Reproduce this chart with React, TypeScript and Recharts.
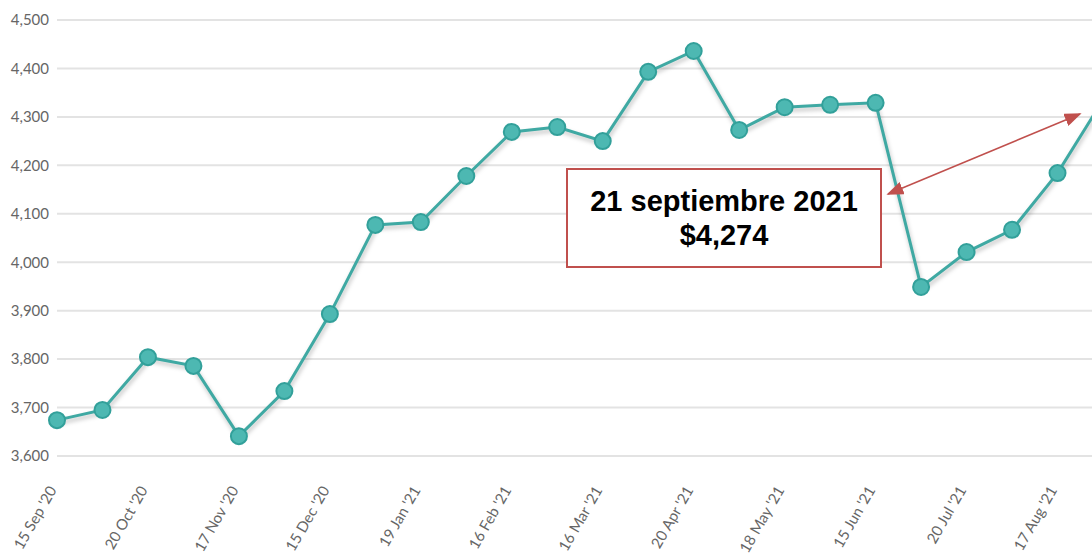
import React from "react";
import { LineChart, Line, XAxis, YAxis, CartesianGrid } from "recharts";

const dates = [
  "15 Sep '20", "29 Sep '20", "20 Oct '20", "3 Nov '20", "17 Nov '20", "1 Dec '20",
  "15 Dec '20", "5 Jan '21", "19 Jan '21", "2 Feb '21", "16 Feb '21", "2 Mar '21",
  "16 Mar '21", "6 Apr '21", "20 Apr '21", "4 May '21", "18 May '21", "1 Jun '21",
  "15 Jun '21", "6 Jul '21", "20 Jul '21", "3 Aug '21", "17 Aug '21", "31 Aug '21",
];

const prices = [
  3674, 3695, 3804, 3786, 3641, 3734, 3893, 4077, 4083, 4178, 4269, 4279,
  4250, 4393, 4436, 4273, 4320, 4325, 4329, 3949, 4021, 4067, 4184, 4335,
];

const yTicks = [3600, 3700, 3800, 3900, 4000, 4100, 4200, 4300, 4400, 4500];

const data = dates.map((d, i) => ({ date: d, price: prices[i] }));

const TEAL = "#3fa9a3";
const RED = "#c0504d";

function DateTick({ x, y, payload }: any) {
  const tx = x - 5;
  const ty = y + 23;
  return (
    <text
      x={tx}
      y={ty}
      transform={`rotate(-60, ${tx}, ${ty})`}
      textAnchor="end"
      dominantBaseline="central"
      fill="#666"
      fontSize={15}
      fontFamily="Lato, sans-serif"
    >
      {payload.value}
    </text>
  );
}

export default function App() {
  return (
    <div
      style={{
        position: "absolute",
        left: 0,
        top: 0,
        width: 1092,
        height: 554,
        overflow: "hidden",
        background: "#fff",
      }}
    >
      <style>{`.shadowline path { filter: drop-shadow(1px 3px 2px rgba(0,0,0,0.25)); }`}</style>
      <LineChart
        width={1110}
        height={554}
        data={data}
        margin={{ top: 20, right: 7, left: 0, bottom: 0 }}
      >
        <CartesianGrid vertical={false} stroke="#e3e3e3" strokeWidth={2} />
        <XAxis
          dataKey="date"
          interval={1}
          tickLine={false}
          axisLine={false}
          height={98}
          tick={<DateTick />}
        />
        <YAxis
          domain={[3600, 4500]}
          ticks={yTicks}
          tickLine={false}
          axisLine={false}
          width={57}
          tick={{ fill: "#666", fontSize: 15, fontFamily: "Lato, sans-serif" }}
          tickFormatter={(v: number) => v.toLocaleString("en-US")}
        />
        <Line
          className="shadowline"
          type="linear"
          dataKey="price"
          stroke={TEAL}
          strokeWidth={3}
          dot={{ r: 8, fill: "#4db8b2", stroke: "#32a09a", strokeWidth: 2 }}
          isAnimationActive={false}
        />
      </LineChart>

      <div
        style={{
          position: "absolute",
          left: 566,
          top: 168,
          width: 312,
          height: 96,
          border: `2px solid ${RED}`,
          background: "#fff",
          display: "flex",
          flexDirection: "column",
          justifyContent: "center",
          alignItems: "center",
          fontFamily: "'Liberation Sans', Arial, sans-serif",
          fontWeight: "bold",
          fontSize: 29,
          lineHeight: "34px",
          color: "#000",
        }}
      >
        <div>21 septiembre 2021</div>
        <div>$4,274</div>
      </div>

      <svg
        width={1092}
        height={554}
        style={{ position: "absolute", left: 0, top: 0, pointerEvents: "none" }}
      >
        <defs>
          <marker
            id="ah"
            viewBox="0 0 10 10"
            refX="9"
            refY="5"
            markerWidth="17"
            markerHeight="13"
            orient="auto-start-reverse"
            markerUnits="userSpaceOnUse"
            preserveAspectRatio="none"
          >
            <path d="M0,0 L10,5 L0,10 z" fill={RED} />
          </marker>
        </defs>
        <line
          x1={888}
          y1={194}
          x2={1080}
          y2={114}
          stroke={RED}
          strokeWidth={1.5}
          markerStart="url(#ah)"
          markerEnd="url(#ah)"
        />
      </svg>
    </div>
  );
}
